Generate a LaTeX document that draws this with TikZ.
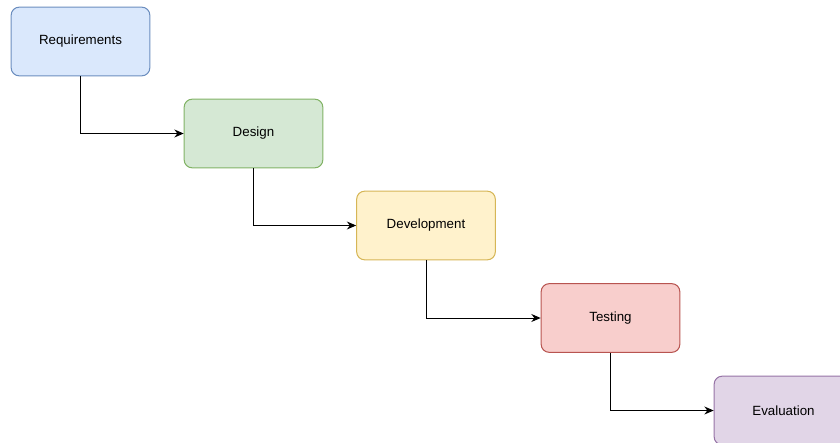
\documentclass[tikz,border=0pt]{standalone}
\usepackage{fontspec}
\setmainfont{Liberation Sans}
\usetikzlibrary{arrows.meta}

\definecolor{reqfill}{HTML}{DAE8FC}\definecolor{reqline}{HTML}{6C8EBF}
\definecolor{desfill}{HTML}{D5E8D4}\definecolor{desline}{HTML}{82B366}
\definecolor{devfill}{HTML}{FFF2CC}\definecolor{devline}{HTML}{D6B656}
\definecolor{tstfill}{HTML}{F8CECC}\definecolor{tstline}{HTML}{B85450}
\definecolor{evlfill}{HTML}{E1D5E7}\definecolor{evlline}{HTML}{9673A6}

\begin{document}
\begin{tikzpicture}[x=0.75pt,y=-0.75pt,
  stage/.style={draw,rounded corners=6pt,line width=0.75pt,
    minimum width=104pt,minimum height=51.5pt,
    font=\fontsize{10}{12}\selectfont},
  flow/.style={line width=0.75pt,-{Stealth[length=7pt,width=6pt]}}]
  \useasboundingbox (0,0) rectangle (840,443);
  \clip (0,0) rectangle (840,443);
  % the five stages, stepping down to the right
  \node[stage,fill=reqfill,draw=reqline] (req) at (80.5,41.5) {Requirements};
  \node[stage,fill=desfill,draw=desline] (des) at (253.5,133.5) {Design};
  \node[stage,fill=devfill,draw=devline] (dev) at (426,225.5) {Development};
  \node[stage,fill=tstfill,draw=tstline] (tst) at (610.5,318) {Testing};
  \node[stage,fill=evlfill,draw=evlline] (evl) at (783.5,410.5) {Evaluation};
  % elbow connectors
  \draw[flow] (req.south) |- (des.west);
  \draw[flow] (des.south) |- (dev.west);
  \draw[flow] (dev.south) |- (tst.west);
  \draw[flow] (tst.south) |- (evl.west);
\end{tikzpicture}
\end{document}
